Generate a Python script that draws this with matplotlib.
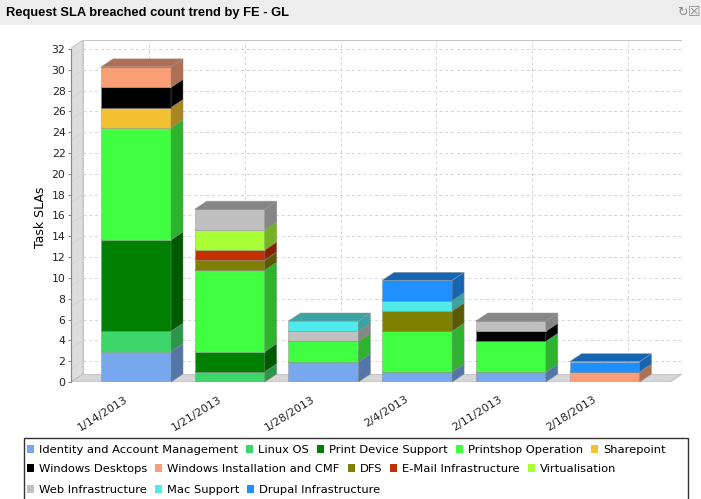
import matplotlib
matplotlib.use("Agg")
import matplotlib.pyplot as plt
import matplotlib.transforms as mtransforms
from matplotlib.patches import Polygon, Rectangle, Patch
from matplotlib.colors import to_rgb
import numpy as np

# ---- data -----------------------------------------------------------------
dates = ["1/14/2013", "1/21/2013", "1/28/2013", "2/4/2013", "2/11/2013", "2/18/2013"]

series_names = ["Identity and Account Management", "Linux OS", "Print Device Support",
                "Printshop Operation", "Sharepoint", "Windows Desktops",
                "Windows Installation and CMF", "DFS", "E-Mail Infrastructure",
                "Virtualisation", "Web Infrastructure", "Mac Support",
                "Drupal Infrastructure"]

identity = [3, 0, 2, 1, 1, 0]
linux_os = [2, 1, 0, 0, 0, 0]
print_device = [9, 2, 0, 0, 0, 0]
printshop = [11, 8, 2, 4, 3, 0]
sharepoint = [2, 0, 0, 0, 0, 0]
win_desktops = [2, 0, 0, 0, 1, 0]
win_install = [2, 0, 0, 0, 0, 1]
dfs = [0, 1, 0, 2, 0, 0]
email = [0, 1, 0, 0, 0, 0]
virtualisation = [0, 2, 0, 0, 0, 0]
web_infra = [0, 2, 1, 0, 1, 0]
mac_support = [0, 0, 1, 1, 0, 0]
drupal = [0, 0, 0, 2, 0, 1]

values = [identity, linux_os, print_device, printshop, sharepoint, win_desktops,
          win_install, dfs, email, virtualisation, web_infra, mac_support, drupal]

colors = ["#77A8EE", "#3DD66A", "#008000", "#40FF40", "#F2C232", "#000000",
          "#FA9E78", "#808000", "#C43100", "#A8FF33", "#C0C0C0", "#50EAEA", "#1E90FF"]

yticks = list(range(0, 33, 2))
legend_rows = [[0, 1, 2, 3, 4], [5, 6, 7, 8, 9], [10, 11, 12]]

# ---- figure ---------------------------------------------------------------
W, H = 701, 499
fig = plt.figure(figsize=(W / 100, H / 100), dpi=100)
plt.rcParams['font.family'] = ['DejaVu Sans']

# title bar
fig.patches.append(Rectangle((0, 1 - 25 / H), 1, 25 / H, transform=fig.transFigure,
                             facecolor="#EEEEEE", edgecolor="none", zorder=0))
fig.text(6 / W, 1 - 13 / H, "Request SLA breached count trend by FE - GL",
         family="Liberation Sans", fontweight="bold", fontsize=9.3, va="center", ha="left")
fig.text(682 / W, 1 - 12 / H, "\u21bb", fontsize=9, color="#888888", va="center", ha="center")
fig.text(694 / W, 1 - 12 / H, "\u2612", fontsize=10, color="#888888", va="center", ha="center")

# full plot area (axis, walls, gridlines)
left_px, right_px, top_px, bottom_px = 71, 682, 40, 382
depth_x, depth_y = 12, 8
ax = fig.add_axes([left_px / W, 1 - bottom_px / H, (right_px - left_px) / W,
                   (bottom_px - top_px) / H])
sy = 10.41                      # pixels per unit on the value axis
xmin = -0.694
sx = 93.7                       # pixels per category
xmax = xmin + (right_px - left_px) / sx
ymax = (bottom_px - top_px) / sy
ax.set_xlim(xmin, xmax)
ax.set_ylim(0, ymax)
dxu = depth_x / sx
dyu = depth_y / sy

for s in ["top", "right", "bottom"]:
    ax.spines[s].set_visible(False)
ax.spines["left"].set_bounds(0, 32)
ax.spines["left"].set_color("#888888")
ax.spines["left"].set_linewidth(0.8)
ax.set_yticks(yticks)
ax.tick_params(axis="y", length=2, color="#888888", labelsize=7.8, pad=2, labelcolor="#222222")
ax.set_xticks([])
ax.patch.set_visible(False)

ax.add_patch(Polygon([(xmin, 0), (xmin + dxu, dyu), (xmin + dxu, ymax), (xmin, ymax - dyu)],
                     closed=True, facecolor="#DDDDDD", edgecolor="#C8C8C8", lw=0.8, zorder=0))
ax.add_patch(Polygon([(xmin, 0), (xmax - dxu, 0), (xmax, dyu), (xmin + dxu, dyu)],
                     closed=True, facecolor="#D6D6D6", edgecolor="#C0C0C0", lw=0.8, zorder=0))
ax.add_patch(Rectangle((xmin + dxu, dyu), xmax - xmin - dxu, ymax - dyu, facecolor="white",
                       edgecolor="#C8C8C8", lw=0.8, zorder=0))

for v in yticks[1:]:
    ax.plot([xmin + dxu, xmax], [v, v], ls=(0, (3, 3)), color="#D4D4D4", lw=0.7, zorder=1)
    ax.plot([xmin, xmin + dxu], [v - dyu, v], color="#D2D2D2", lw=0.6, zorder=1)
for i in range(len(dates)):
    gx = 0.139 + 1.022 * i
    ax.plot([gx, gx], [dyu, ymax], ls=(0, (3, 3)), color="#D4D4D4", lw=0.7, zorder=1)

# bars live in the area reduced by the 3d depth
bx = fig.add_axes([left_px / W, 1 - bottom_px / H, (right_px - depth_x - left_px) / W,
                   (bottom_px - top_px - depth_y) / H])
bx.set_xlim(xmin, xmin + (right_px - depth_x - left_px) / sx)
bx.set_ylim(0, ymax)
bx.axis("off")
bsy = (bottom_px - top_px - depth_y) / ymax
bdx = depth_x / sx
bdy = depth_y / bsy
bw = 70 / sx

def darker(c, f=0.7):
    r, g, b = to_rgb(c)
    return (r * f, g * f, b * f)

x = np.arange(len(dates))
bottom = np.zeros(len(dates))
edge = (0.55, 0.55, 0.55, 0.6)
for vals, col in zip(values, colors):
    vals = np.array(vals, dtype=float)
    bx.bar(x, vals, bw, bottom=bottom, color=col, edgecolor=edge, lw=0.5, zorder=3)
    for i in range(len(dates)):
        if vals[i] == 0:
            continue
        y0, y1 = bottom[i], bottom[i] + vals[i]
        xr = x[i] + bw / 2
        xl = x[i] - bw / 2
        bx.add_patch(Polygon([(xr, y0), (xr + bdx, y0 + bdy), (xr + bdx, y1 + bdy), (xr, y1)],
                             closed=True, facecolor=darker(col), edgecolor=edge, lw=0.5,
                             zorder=3, clip_on=False))
        bx.add_patch(Polygon([(xl, y1), (xr, y1), (xr + bdx, y1 + bdy), (xl + bdx, y1 + bdy)],
                             closed=True, facecolor=darker(col),
                             edgecolor=(0.6, 0.6, 0.6, 0.7), lw=0.5, zorder=3, clip_on=False))
    bottom = bottom + vals

# category labels
lab_tr = mtransforms.offset_copy(bx.transData, fig=fig, x=-12, y=-12, units="dots")
for i, d in enumerate(dates):
    bx.text(x[i], 0, d, transform=lab_tr, rotation=32, rotation_mode="anchor",
            ha="right", va="top", fontsize=8, color="#222222", clip_on=False)

fig.text(41 / W, 1 - 217 / H, "Task SLAs", rotation=90, fontsize=9, va="center", ha="center")

# legend (flow layout, one row at a time)
fig.patches.append(Rectangle((24 / W, -0.05), (688 - 24) / W, 0.05 + (499 - 438) / H,
                             transform=fig.transFigure, facecolor="white",
                             edgecolor="#333333", lw=1, zorder=0))
row_y = [450, 469, 490]
for row, yy in zip(legend_rows, row_y):
    handles = [Patch(facecolor=colors[k], edgecolor="none") for k in row]
    labels = [series_names[k] for k in row]
    fig.legend(handles, labels, loc="center left", bbox_to_anchor=(27 / W, 1 - yy / H),
               ncol=len(row), frameon=False, fontsize=8.25, handlelength=0.6,
               handleheight=0.6, handletextpad=0.45, columnspacing=0.7,
               borderpad=0, borderaxespad=0)

fig.savefig("out.png", dpi=100)
